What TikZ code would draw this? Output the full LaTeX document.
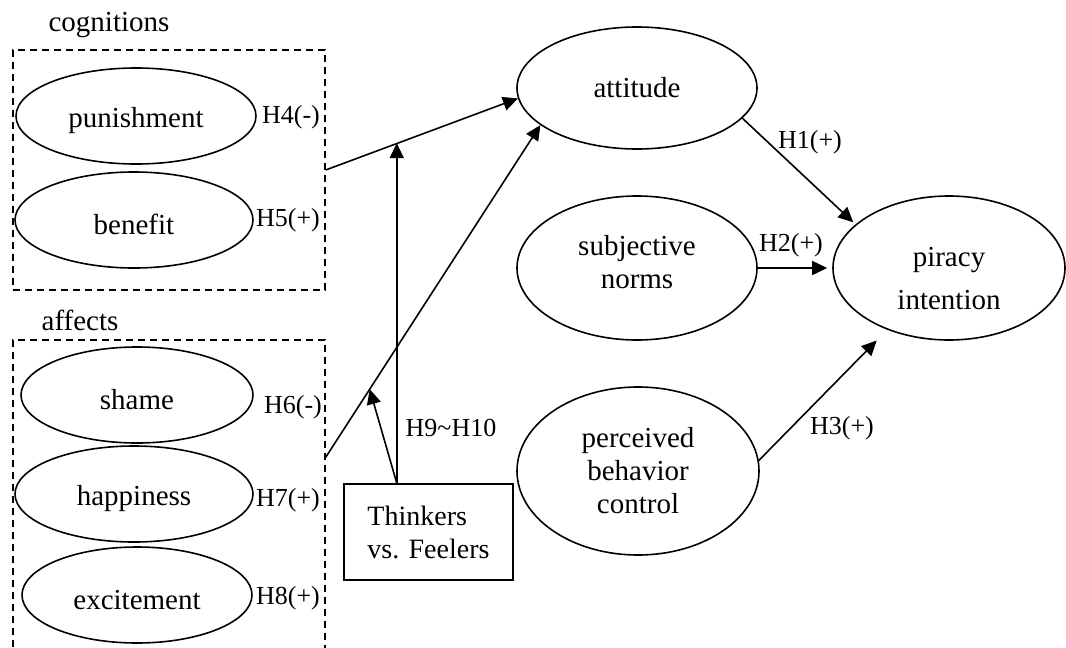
\documentclass[tikz,border=0pt]{standalone}
\usepackage{fontspec}
\setmainfont{Liberation Serif}
\usetikzlibrary{arrows.meta,shapes.geometric,calc}
\newcommand\lowtxt{\rule{0pt}{30pt}}
\begin{document}
\begin{tikzpicture}[x=1pt,y=-1pt,
  lbl/.style={font=\fontsize{29}{33}\selectfont, inner sep=0pt},
  hyp/.style={font=\fontsize{26}{30}\selectfont, inner sep=0pt},
  ell/.style={draw, ellipse, line width=1.6pt, inner sep=0pt, align=center, font=\fontsize{29}{33}\selectfont},
  grp/.style={draw, dash pattern=on 7pt off 5pt, line width=1.4pt, inner sep=0pt},
  arr/.style={line width=1.6pt, -{Triangle[length=15pt,width=14pt]}},
  modbox/.style={draw, line width=1.6pt, inner sep=0pt, align=left, font=\fontsize{28}{33}\selectfont}]
\useasboundingbox (0,0) rectangle (1066,648);
\clip (0,0) rectangle (1066,648);

% group boxes
\node[grp, minimum width=312, minimum height=240] (cog) at (169,170) {};
\node[grp, minimum width=312, minimum height=360] (aff) at (169,520) {};
\node[lbl] (cogl) at (109,25) {cognitions};
\node[lbl] (affl) at (80,320) {affects};

% left ellipses
\node[ell, minimum width=240, minimum height=96] (pun) at (136,116) {\lowtxt punishment};
\node[ell, minimum width=238, minimum height=96] (ben) at (134,220) {\lowtxt benefit};
\node[ell, minimum width=232, minimum height=96] (sha) at (137,395) {\lowtxt shame};
\node[ell, minimum width=238, minimum height=96] (hap) at (134,494) {\lowtxt happiness};
\node[ell, minimum width=230, minimum height=96] (exc) at (137,595) {\lowtxt excitement};

% hypothesis labels on the left
\node[hyp] (h4) at (291,117) {H4(-)};
\node[hyp] (h5) at (288,220) {H5(+)};
\node[hyp] (h6) at (293,407) {H6(-)};
\node[hyp] (h7) at (288,500) {H7(+)};
\node[hyp] (h8) at (288,598) {H8(+)};

% right ellipses
\node[ell, minimum width=240, minimum height=122] (att) at (637,88) {attitude};
\node[ell, minimum width=240, minimum height=144] (sn) at (637,268) {subjective\\[0pt]norms\rule[-12pt]{0pt}{12pt}};
\node[ell, minimum width=242, minimum height=168] (pbc) at (638,471) {perceived\\[0pt]behavior\\[0pt]control};
\node[ell, minimum width=232, minimum height=144] (pi) at (949,268) {\rule{0pt}{40pt}piracy\\[10pt]intention};

% moderator box
\node[modbox, minimum width=169, minimum height=96] (tf) at (428.5,532) {Thinkers\\[0pt]vs. Feelers};

% connectors
\coordinate (affout) at ($(aff.north east)+(0,118)$);
\draw[arr] (cog.east) -- coordinate[pos=0.375] (m1) (att.185);
\draw[arr] (affout) -- coordinate[pos=0.205] (m2) (att.201);
\coordinate (tft) at ($(tf.north west)!0.314!(tf.north east)$);
\draw[arr] (tft) -- (tft |- m1);
\draw[arr] (tft) -- (m2);
\node[hyp] (h910) at (451,428) {H9\char`~H10};

\draw[arr, shorten >=3pt] (att.344) -- (pi.155);
\draw[arr, shorten >=5pt] (sn.east) -- (pi.west);
\draw[arr, shorten >=15pt] (pbc.5) -- (pi.225);
\node[hyp] (h1) at (810,142) {H1(+)};
\node[hyp] (h2) at (791,245) {H2(+)};
\node[hyp] (h3) at (842,428) {H3(+)};
\end{tikzpicture}
\end{document}
